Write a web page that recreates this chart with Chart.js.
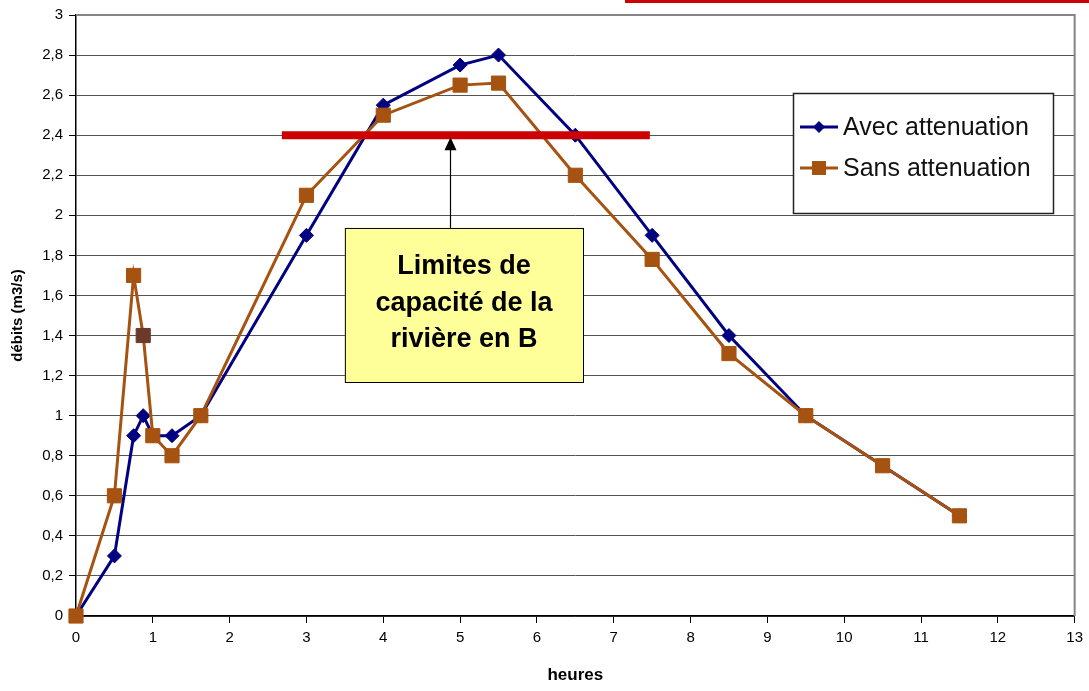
<!DOCTYPE html>
<html>
<head>
<meta charset="utf-8">
<script src="https://cdn.jsdelivr.net/npm/chart.js@4.4.0/dist/chart.umd.min.js"></script>
<style>
    html, body { margin: 0; padding: 0; background: #fff; }
    #wrap { width: 1089px; height: 691px; position: relative; }
</style>
</head>
<body>
<div id="wrap"><canvas id="debitChart"></canvas></div>
<script>
// data
const heures = [0, 0.5, 0.75, 0.875, 1, 1.25, 1.625, 3, 4, 5, 5.5, 6.5, 7.5, 8.5, 9.5, 10.5, 11.5];
const avecAttenuation = [0, 0.3, 0.9, 1.0, 0.9, 0.9, 1.0, 1.9, 2.55, 2.75, 2.8, 2.4, 1.9, 1.4, 1.0, 0.75, 0.5];
const sansAttenuation = [0, 0.6, 1.7, 1.4, 0.9, 0.8, 1.0, 2.1, 2.5, 2.65, 2.66, 2.2, 1.78, 1.31, 1.0, 0.75, 0.5];
const limiteX = [2.68, 7.47];
const limiteY = [2.4, 2.4];
const seriesLabels = ['Avec attenuation', 'Sans attenuation'];
const noteLines = ['Limites de', 'capacité de la', 'rivière en B'];

const FONT = 'Arial, "Liberation Sans", sans-serif';
const BLUE = '#000080';
const ORANGE = '#A65210';

function toPoints(xs, ys) {
    return xs.map((x, i) => ({ x: x, y: ys[i] }));
}

// one odd point in the orange series is darker brown
const sansColors = sansAttenuation.map((v, i) => i === 3 ? '#6B3A28' : ORANGE);

// yellow note, arrow, legend box and frame
const extras = {
    id: 'extras',
    afterDraw(chart) {
        const ctx = chart.ctx;
        const xs = chart.scales.x;
        const ys = chart.scales.y;
        const area = chart.chartArea;
        ctx.save();

        // frame top / right
        ctx.strokeStyle = '#858585';
        ctx.lineWidth = 2;
        ctx.beginPath();
        ctx.moveTo(area.left, area.top);
        ctx.lineTo(area.right, area.top);
        ctx.lineTo(area.right, area.bottom);
        ctx.stroke();

        // red strip cut off at the top
        ctx.fillStyle = '#CC0000';
        ctx.fillRect(625, 0, 464, 3);

        // arrow from the note up to the limit line
        const ax = Math.round(xs.getPixelForValue(4.87)) + 0.5;
        const boxTop = ys.getPixelForValue(1.937);
        const tipY = ys.getPixelForValue(2.39);
        ctx.strokeStyle = '#000';
        ctx.lineWidth = 1.2;
        ctx.beginPath();
        ctx.moveTo(ax, boxTop);
        ctx.lineTo(ax, tipY + 12);
        ctx.stroke();
        ctx.fillStyle = '#000';
        ctx.beginPath();
        ctx.moveTo(ax, tipY);
        ctx.lineTo(ax - 6, tipY + 13);
        ctx.lineTo(ax + 6, tipY + 13);
        ctx.closePath();
        ctx.fill();

        // yellow note
        const bx1 = xs.getPixelForValue(3.5), bx2 = xs.getPixelForValue(6.6);
        const by1 = boxTop, by2 = ys.getPixelForValue(1.168);
        ctx.fillStyle = '#FFFF99';
        ctx.fillRect(bx1, by1, bx2 - bx1, by2 - by1);
        ctx.strokeStyle = '#000';
        ctx.lineWidth = 1;
        ctx.strokeRect(bx1 + 0.5, by1 + 0.5, bx2 - bx1, by2 - by1);
        ctx.fillStyle = '#000';
        ctx.font = 'bold 27px ' + FONT;
        ctx.textAlign = 'center';
        ctx.textBaseline = 'middle';
        const cx = (bx1 + bx2) / 2;
        noteLines.forEach((t, i) => ctx.fillText(t, cx, by1 + 39 + i * 36.5));

        // legend
        ctx.fillStyle = '#fff';
        ctx.fillRect(793, 93, 260, 120);
        ctx.strokeStyle = '#222';
        ctx.lineWidth = 1.5;
        ctx.strokeRect(793.5, 93.5, 260, 120);
        ctx.font = '25px ' + FONT;
        ctx.textAlign = 'left';
        const rows = [127, 168];
        [BLUE, ORANGE].forEach((c, i) => {
            const y = rows[i];
            ctx.strokeStyle = c;
            ctx.lineWidth = 3;
            ctx.beginPath();
            ctx.moveTo(800, y);
            ctx.lineTo(838, y);
            ctx.stroke();
            ctx.fillStyle = c;
            if (i === 0) {
                ctx.beginPath();
                ctx.moveTo(819, y - 6);
                ctx.lineTo(825, y);
                ctx.lineTo(819, y + 6);
                ctx.lineTo(813, y);
                ctx.closePath();
                ctx.fill();
            } else {
                ctx.fillRect(812, y - 7, 14, 14);
            }
            ctx.fillStyle = '#111';
            ctx.fillText(seriesLabels[i], 843, y + 1);
        });
        ctx.restore();
    }
};

function initializeDebitChart() {
    const ctx = document.getElementById('debitChart').getContext('2d');

    const data = {
        datasets: [
            {
                label: 'Limite',
                data: toPoints(limiteX, limiteY),
                borderColor: '#CC0000',
                borderWidth: 8,
                pointRadius: 0,
                borderCapStyle: 'butt',
                order: 0
            },
            {
                label: seriesLabels[1],
                data: toPoints(heures, sansAttenuation),
                borderColor: ORANGE,
                backgroundColor: ORANGE,
                pointBackgroundColor: sansColors,
                pointBorderColor: sansColors,
                borderWidth: 3,
                pointStyle: 'rect',
                pointRadius: 10,
                pointBorderWidth: 1,
                clip: false,
                order: 1
            },
            {
                label: seriesLabels[0],
                data: toPoints(heures, avecAttenuation),
                borderColor: BLUE,
                backgroundColor: BLUE,
                pointBackgroundColor: BLUE,
                borderWidth: 3,
                pointStyle: 'rectRot',
                pointRadius: 7,
                pointBorderWidth: 1,
                clip: false,
                order: 2
            }
        ]
    };

    const options = {
        responsive: true,
        maintainAspectRatio: false,
        animation: false,
        layout: { padding: { top: 15, right: 14, left: 0, bottom: 0 } },
        scales: {
            x: {
                type: 'linear',
                min: 0,
                max: 13,
                afterFit: (s) => { s.height = 75; },
                ticks: { stepSize: 1, color: '#000', padding: 6, font: { size: 15, family: FONT } },
                grid: { drawOnChartArea: false, tickLength: 7, color: '#000' },
                border: { color: '#000', width: 1.5 },
                title: { display: true, text: 'heures', color: '#000', padding: { top: 0, bottom: 5 }, font: { size: 17, weight: 'bold', family: FONT } }
            },
            y: {
                min: 0,
                max: 3,
                afterFit: (s) => { s.width = 76; },
                ticks: {
                    stepSize: 0.2,
                    color: '#000',
                    padding: 6,
                    font: { size: 15, family: FONT },
                    callback: (v) => String(Math.round(v * 10) / 10).replace('.', ',')
                },
                grid: { color: '#555', lineWidth: 1, tickLength: 7, tickColor: '#000' },
                border: { color: '#000', width: 1.5 },
                title: { display: true, text: 'débits (m3/s)', color: '#000', padding: { top: 9, bottom: 0 }, font: { size: 15, weight: 'bold', family: FONT } }
            }
        },
        plugins: {
            legend: { display: false },
            tooltip: { enabled: false }
        }
    };

    new Chart(ctx, {
        type: 'line',
        data: data,
        options: options,
        plugins: [extras]
    });
}

initializeDebitChart();
</script>
</body>
</html>
